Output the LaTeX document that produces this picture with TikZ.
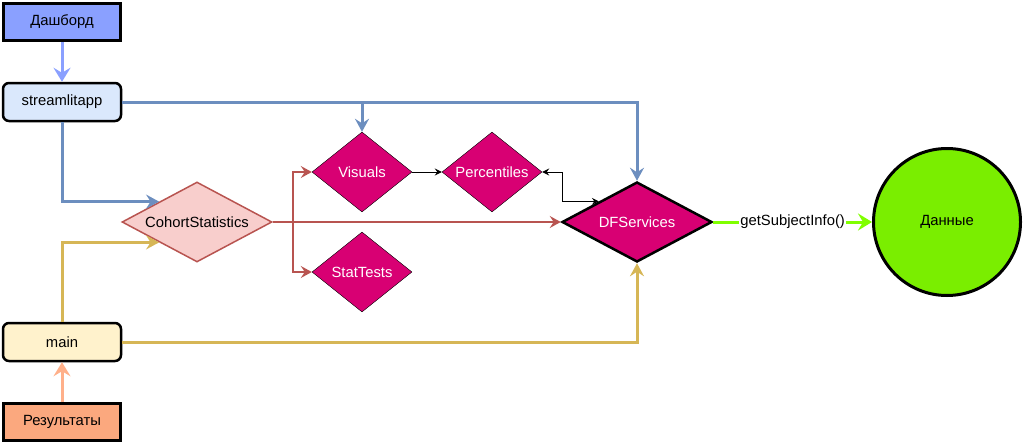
\documentclass[tikz,border=0pt]{standalone}
\usepackage{fontspec}
\setmainfont{Liberation Sans}
\usetikzlibrary{arrows.meta,shapes.geometric,positioning}
\definecolor{dashblue}{HTML}{8AA0FF}
\definecolor{appblue}{HTML}{DAE8FC}
\definecolor{linkblue}{HTML}{6C8EBF}
\definecolor{mainyel}{HTML}{FFF2CC}
\definecolor{linkyel}{HTML}{D6B656}
\definecolor{resorange}{HTML}{FBA87E}
\definecolor{linkorange}{HTML}{FFB08A}
\definecolor{cohortred}{HTML}{F8CECC}
\definecolor{linkred}{HTML}{B85450}
\definecolor{magenta}{HTML}{D80073}
\definecolor{datagreen}{HTML}{7AEE00}
\definecolor{linkgreen}{HTML}{80FF00}
\begin{document}
\begin{tikzpicture}[x=1pt,y=-1pt,
  every node/.style={font=\fontsize{14.8}{17}\selectfont},
  endbox/.style={draw=black,line width=3pt,minimum width=117pt,minimum height=37pt,inner sep=0pt},
  modbox/.style={draw=black,line width=2.5pt,rounded corners=6pt,minimum width=118pt,minimum height=38pt,inner sep=0pt},
  cls/.style={diamond,aspect=1.25,draw=black,fill=magenta,text=white,inner sep=0pt,minimum width=100pt,minimum height=80pt},
  big/.style={aspect=1.875,minimum width=150pt},
  bigarrow/.style={line width=3pt,-{Stealth[length=14pt,width=17pt,inset=5pt]}},
  midarrow/.style={line width=3pt,-{Stealth[length=13pt,width=14pt,inset=4.5pt]}},
  redarrow/.style={line width=2pt,draw=linkred,-{Stealth[length=11pt,width=12pt,inset=4pt]}},
  thinarrow/.style={line width=1pt,-{Stealth[length=7pt,width=7pt,inset=2.5pt]}},
  lbl/.style={fill=white,inner sep=1pt}]
\useasboundingbox (0,0) rectangle (1025,444);

% left column
\node[endbox,fill=dashblue] (Dash) at (62,22) {Дашборд};
\node[modbox,fill=appblue] (App) at (62,102) {streamlitapp};
\node[modbox,fill=mainyel] (Main) at (62,342) {main};
\node[endbox,fill=resorange] (Res) at (62,422) {Результаты};

% classes
\node[diamond,aspect=1.875,draw=linkred,fill=cohortred,line width=1.5pt,inner sep=0pt,minimum width=150pt,minimum height=80pt] (Cohort) at (197,222) {CohortStatistics};
\node[cls] (Vis) at (362,172) {Visuals};
\node[cls] (Perc) at (492,172) {Percentiles};
\node[cls] (Tests) at (362,272) {StatTests};
\node[cls,big,line width=2.5pt] (DF) at (637,222) {DFServices};
\node[circle,draw=black,line width=3pt,fill=datagreen,minimum size=147pt,inner sep=0pt] (Data) at (947,222) {Данные};

% links
\draw[bigarrow,draw=dashblue,color=dashblue] (Dash) -- (App);
\draw[bigarrow,draw=linkorange,color=linkorange] (Res) -- (Main);
\draw[midarrow,draw=linkblue,color=linkblue] (App.east) -| (DF.north);
\draw[midarrow,draw=linkblue,color=linkblue] (App.east) -| (Vis.north);
\draw[midarrow,draw=linkblue,color=linkblue] (App.south) |- (Cohort.north west);
\draw[midarrow,draw=linkyel,color=linkyel] (Main.north) |- (Cohort.south west);
\draw[midarrow,draw=linkyel,color=linkyel] (Main.east) -| (DF.south);
\draw[redarrow,color=linkred] (Cohort.east) -- (DF.west);
\draw[redarrow,color=linkred] (Cohort.east) -- ++(20,0) |- (Vis.west);
\draw[redarrow,color=linkred] (Cohort.east) -- ++(20,0) |- (Tests.west);
\draw[thinarrow] (Vis) -- (Perc);
\draw[line width=1pt,{Stealth[length=7pt,width=7pt,inset=2.5pt]}-{Stealth[length=7pt,width=7pt,inset=2.5pt]}] (Perc.east) -- ++(20,0) |- (DF.north west);
\draw[bigarrow,draw=linkgreen,color=linkgreen] (DF) -- node[lbl,text=black] {getSubjectInfo()} (Data);

\end{tikzpicture}
\end{document}
